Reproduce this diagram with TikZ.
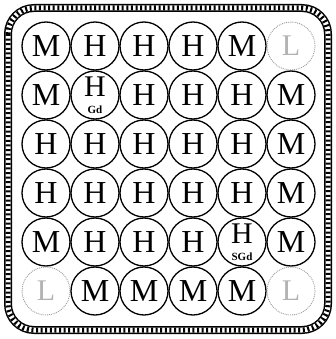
\documentclass[tikz,border=0pt]{standalone}
\usepackage{fontspec}
\setmainfont{Liberation Serif}
\begin{document}
\begin{tikzpicture}[x=1pt,y=-1pt,
  site/.style={circle,draw=black,line width=1.3pt,minimum size=48pt,inner sep=0pt,
    font=\fontsize{32}{32}\selectfont},
  lsite/.style={circle,draw=black!40,densely dotted,line width=0.9pt,minimum size=48pt,inner sep=0pt,
    text=black!30,font=\fontsize{30}{30}\selectfont},
  dsite/.style={circle,draw=black,line width=1.3pt,minimum size=48pt,inner sep=0pt},
  gdletter/.style={font=\fontsize{30}{30}\selectfont,inner sep=0pt},
  gdlabel/.style={font=\bfseries\fontsize{11}{11}\selectfont,inner sep=0pt}]
\useasboundingbox (0,0) rectangle (335,339);
% rope border
\path[draw=black,line width=8pt,rounded corners=26pt] (8,8) rectangle (328,330);
\path[draw=white,line width=5pt,rounded corners=26pt] (8,8) rectangle (328,330);
\path[draw=black,line width=5pt,dash pattern=on 2pt off 2.6pt,rounded corners=26pt] (8,8) rectangle (328,330);
% row 1
\node[site]  (c11) at (46,46) {M};
\node[site]  (c12) at (95,46) {H};
\node[site]  (c13) at (144,46) {H};
\node[site]  (c14) at (193,46) {H};
\node[site]  (c15) at (242,46) {M};
\node[lsite] (c16) at (291,46) {L};
% row 2
\node[site]  (c21) at (46,95) {M};
\node[dsite] (c22) at (95,95) {};
\node[gdletter] (c22h) at (95,87) {H};
\node[gdlabel]  (c22g) at (95,110) {Gd};
\node[site]  (c23) at (144,95) {H};
\node[site]  (c24) at (193,95) {H};
\node[site]  (c25) at (242,95) {H};
\node[site]  (c26) at (291,95) {M};
% row 3
\node[site] (c31) at (46,144) {H};
\node[site] (c32) at (95,144) {H};
\node[site] (c33) at (144,144) {H};
\node[site] (c34) at (193,144) {H};
\node[site] (c35) at (242,144) {H};
\node[site] (c36) at (291,144) {M};
% row 4
\node[site] (c41) at (46,193) {H};
\node[site] (c42) at (95,193) {H};
\node[site] (c43) at (144,193) {H};
\node[site] (c44) at (193,193) {H};
\node[site] (c45) at (242,193) {H};
\node[site] (c46) at (291,193) {M};
% row 5
\node[site]  (c51) at (46,242) {M};
\node[site]  (c52) at (95,242) {H};
\node[site]  (c53) at (144,242) {H};
\node[site]  (c54) at (193,242) {H};
\node[dsite] (c55) at (242,242) {};
\node[gdletter] (c55h) at (242,234) {H};
\node[gdlabel]  (c55g) at (242,257) {SGd};
\node[site]  (c56) at (291,242) {M};
% row 6
\node[lsite] (c61) at (46,291) {L};
\node[site]  (c62) at (95,291) {M};
\node[site]  (c63) at (144,291) {M};
\node[site]  (c64) at (193,291) {M};
\node[site]  (c65) at (242,291) {M};
\node[lsite] (c66) at (291,291) {L};
\end{tikzpicture}
\end{document}
